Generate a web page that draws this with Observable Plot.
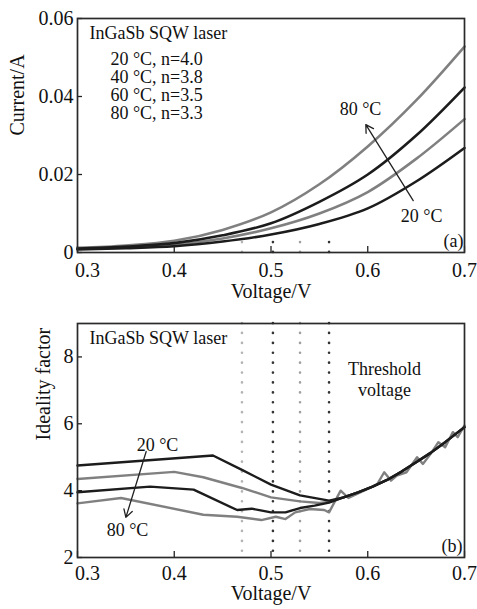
<!DOCTYPE html>
<html>
<head>
<meta charset="utf-8">
<script src="https://cdn.jsdelivr.net/npm/d3@7"></script>
<script src="https://cdn.jsdelivr.net/npm/@observablehq/plot@0.6"></script>
<style>
  html, body { margin: 0; padding: 0; background: #fff; }
  #chart svg { display: block; }
</style>
</head>
<body>
<div id="chart"></div>
<script>
// ---------- data ----------
const xTicks = [0.3, 0.4, 0.5, 0.6, 0.7];
const currentTicks = [0, 0.02, 0.04, 0.06];
const idealityTicks = [2, 4, 6, 8];

const temps = [20, 40, 60, 80];
const nValues = [4.0, 3.8, 3.5, 3.3];

// panel (a): I-V curves
const voltsA = [0.30, 0.35, 0.40, 0.45, 0.50, 0.55, 0.60, 0.65, 0.70];
const current20 = [0.0008, 0.0011, 0.0016, 0.0028, 0.0046, 0.0073, 0.0113, 0.0182, 0.0268];
const current40 = [0.0009, 0.0013, 0.0020, 0.0036, 0.0062, 0.0100, 0.0155, 0.0240, 0.0342];
const current60 = [0.0010, 0.0015, 0.0024, 0.0044, 0.0075, 0.0130, 0.0200, 0.0300, 0.0423];
const current80 = [0.0012, 0.0018, 0.0030, 0.0058, 0.0103, 0.0175, 0.0272, 0.0390, 0.0528];

// threshold voltages (80, 60, 40, 20 degC)
const thresholdV = [0.47, 0.502, 0.53, 0.56];
const thresholdMarkI = 0.005;

// panel (b): ideality factor
const mergedV = [0.575, 0.59, 0.605, 0.62, 0.635, 0.65, 0.665, 0.68, 0.70];
const mergedN = [3.80, 3.95, 4.12, 4.32, 4.57, 4.85, 5.13, 5.45, 5.90];

const idealV20 = [0.30, 0.44, 0.47, 0.50, 0.53, 0.56];
const ideal20  = [4.75, 5.05, 4.62, 4.18, 3.86, 3.70];
const idealV40 = [0.30, 0.40, 0.43, 0.47, 0.50, 0.53, 0.55, 0.56];
const ideal40  = [4.35, 4.56, 4.40, 4.08, 3.80, 3.68, 3.63, 3.66];
const idealV60 = [0.30, 0.375, 0.42, 0.465, 0.48, 0.50, 0.515, 0.53, 0.545, 0.56];
const ideal60  = [3.95, 4.12, 4.03, 3.42, 3.46, 3.35, 3.35, 3.48, 3.55, 3.64];
const idealV80 = [0.30, 0.345, 0.43, 0.465, 0.49, 0.505, 0.515, 0.525, 0.54, 0.555, 0.56, 0.572, 0.58, 0.59, 0.60, 0.61, 0.617, 0.624, 0.63, 0.64, 0.651, 0.657, 0.665, 0.673, 0.68, 0.688, 0.693, 0.70];
const ideal80  = [3.62, 3.78, 3.28, 3.22, 3.12, 3.22, 3.15, 3.35, 3.45, 3.42, 3.35, 4.00, 3.78, 3.92, 4.05, 4.20, 4.55, 4.30, 4.45, 4.55, 5.00, 4.80, 5.10, 5.45, 5.30, 5.75, 5.60, 5.95];

// ---------- styling ----------
const GRAY = "#808080";
const BLACK = "#1c1c1c";
const FONT = "'Liberation Serif', 'Times New Roman', serif";
const colorsByTemp = {20: BLACK, 40: GRAY, 60: BLACK, 80: GRAY};
const thresholdColors = ["#b4b4b4", "#333", "#a0a0a0", "#333"];

const zip = (xs, ys) => xs.map((x, i) => ({x, y: ys[i]}));
const W = 477;

const common = {
  width: W,
  marginLeft: 77,
  marginRight: 13,
  marginTop: 18,
  style: {fontFamily: FONT, fontSize: "18px", background: "#fff", color: "#111", overflow: "visible"},
  x: {domain: [0.3, 0.7]}
};

function axesMarks(yTicks, yFormat, xPad) {
  const tick = {tickSize: 0, tickPadding: xPad, tickFormat: d3.format(".1f"), label: null, fill: "#111", fontSize: 20};
  return [
    Plot.ruleX(xTicks, {insetTop: 228, stroke: "#222", strokeWidth: 1.3}),
    Plot.ruleY(yTicks, {insetRight: 382, stroke: "#222", strokeWidth: 1.3}),
    Plot.axisX(xTicks.slice(1), tick),
    Plot.axisX(xTicks.slice(0, 1), {...tick, dx: 10}),
    Plot.axisY(yTicks, {tickSize: 0, tickPadding: 4, tickFormat: yFormat, label: null, fill: "#111", fontSize: 20}),
    Plot.frame({stroke: "#2a2a2a", strokeWidth: 1.7})
  ];
}

const dotted = {strokeWidth: 2.6, strokeDasharray: "0.1,9.8", strokeLinecap: "round"};
const titleFont = {fontSize: 20, letterSpacing: "0.8px"};

// ---------- panel (a) ----------
const seriesA = [
  {t: 80, ys: current80},
  {t: 40, ys: current40},
  {t: 60, ys: current60},
  {t: 20, ys: current20}
];

const legendText = temps.map((t, i) => `${t} °C, n=${nValues[i].toFixed(1)}`).join("\n");

const plotA = Plot.plot({
  ...common,
  height: 305,
  marginBottom: 53,
  y: {domain: [0, 0.06]},
  marks: [
    ...thresholdV.map((v, i) => Plot.ruleX([v], {y1: 0, y2: thresholdMarkI, stroke: thresholdColors[i], ...dotted})),
    ...seriesA.map(s => Plot.line(zip(voltsA, s.ys), {x: "x", y: "y", stroke: colorsByTemp[s.t], strokeWidth: 2.6, curve: "catmull-rom"})),
    ...axesMarks(currentTicks, d => d === 0 ? "0" : d3.format(".2f")(d), 10),
    Plot.text(["Current/A"], {frameAnchor: "left", rotate: -90, dx: -59.5, ...titleFont}),
    Plot.text(["Voltage/V"], {frameAnchor: "bottom", dy: 45, ...titleFont}),
    Plot.text(["InGaSb SQW laser"], {x: 0.3124, y: 0.0562, textAnchor: "start", letterSpacing: "0.5px"}),
    Plot.text([legendText], {x: 0.334, y: 0.0426, textAnchor: "start", lineHeight: 1.01, ariaLabel: "nlegend"}),
    Plot.text(["80 °C"], {x: 0.5925, y: 0.0367}),
    Plot.text(["20 °C"], {x: 0.6556, y: 0.0094}),
    Plot.arrow([0], {x1: 0.647, y1: 0.0133, x2: 0.598, y2: 0.0328, stroke: "#222", strokeWidth: 1.3, headLength: 10}),
    Plot.text(["(a)"], {x: 0.699, y: 0.0028, textAnchor: "end"})
  ]
});

// italic n in legend lines
d3.select(plotA).selectAll('g[aria-label="nlegend"] tspan').each(function() {
  const s = this.textContent;
  const k = s.indexOf("n=");
  if (k < 0) return;
  const el = d3.select(this);
  el.text(null);
  el.append("tspan").text(s.slice(0, k));
  el.append("tspan").attr("font-style", "italic").text("n");
  el.append("tspan").text(s.slice(k + 1));
});

// ---------- panel (b) ----------
const seriesB = [
  {t: 80, pts: zip(idealV80, ideal80)},
  {t: 40, pts: zip(idealV40, ideal40).concat(zip(mergedV, mergedN))},
  {t: 60, pts: zip(idealV60, ideal60).concat(zip(mergedV, mergedN))},
  {t: 20, pts: zip(idealV20, ideal20).concat(zip(mergedV, mergedN))}
];

const plotB = Plot.plot({
  ...common,
  height: 304,
  marginBottom: 52,
  y: {domain: [2, 9]},
  marks: [
    ...thresholdV.map((v, i) => Plot.ruleX([v], {stroke: thresholdColors[i], ...dotted})),
    ...seriesB.map(s => Plot.line(s.pts, {x: "x", y: "y", stroke: colorsByTemp[s.t], strokeWidth: 2.4, curve: "linear", strokeLinejoin: "round"})),
    ...axesMarks(idealityTicks, d3.format("d"), 8),
    Plot.text(["Ideality factor"], {frameAnchor: "left", rotate: -90, dx: -34, ...titleFont}),
    Plot.text(["Voltage/V"], {frameAnchor: "bottom", dy: 42.5, ...titleFont}),
    Plot.text(["InGaSb SQW laser"], {x: 0.3124, y: 8.55, textAnchor: "start", letterSpacing: "0.5px"}),
    Plot.text(["Threshold\nvoltage"], {x: 0.6173, y: 7.34, lineHeight: 1.15, letterSpacing: "0.5px"}),
    Plot.text(["20 °C"], {x: 0.3827, y: 5.35}),
    Plot.text(["80 °C"], {x: 0.3517, y: 2.81}),
    Plot.arrow([0], {x1: 0.371, y1: 5.17, x2: 0.350, y2: 3.2, stroke: "#222", strokeWidth: 1.3, headLength: 10}),
    Plot.text(["(b)"], {x: 0.698, y: 2.33, textAnchor: "end"})
  ]
});

const root = document.getElementById("chart");
root.appendChild(plotA);
root.appendChild(plotB);
</script>
</body>
</html>
